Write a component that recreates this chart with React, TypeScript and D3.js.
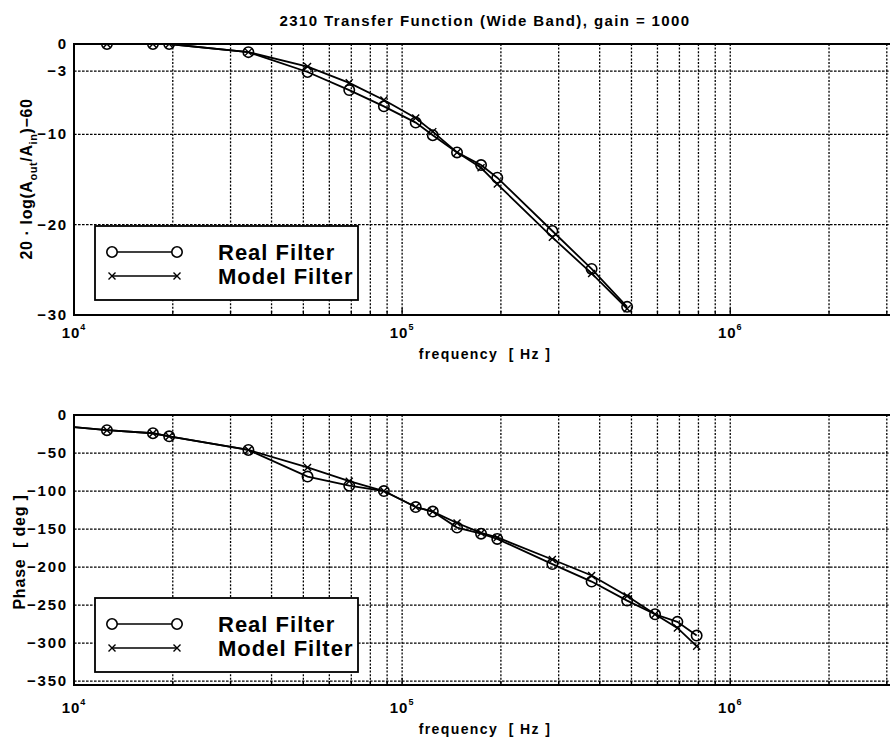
import { useEffect, useRef } from 'react';
import * as d3 from 'd3';

// sampled frequencies (the first one sits just left of the axis and is clipped)
const freqHz = [
  8000, 12600, 17400, 19500, 34000, 51500, 69000, 88000, 110000, 124000, 147000,
  174000, 195000, 287000, 378000, 485000, 590000, 690000, 790000,
];

// magnitude, dB (real data stops at the -30 floor)
const magReal = [0, 0, 0, 0, -0.9, -3.1, -5.1, -6.9, -8.7, -10.1, -12.0, -13.4, -14.8, -20.7, -24.9, -29.1];
const magModel = [0, 0, 0, 0, -0.9, -2.5, -4.3, -6.2, -8.2, -9.7, -12.0, -13.7, -15.5, -21.4, -25.4, -29.3];

// phase, degrees
const phaseReal = [-12, -20, -24, -28, -46, -81, -93, -100, -121, -127, -148, -156, -163, -196, -219, -244, -262, -272, -290];
const phaseModel = [-12, -20, -24, -28, -46, -69, -87, -100, -121, -127, -142, -155, -161, -190, -211, -238, -262, -280, -304];

const magTicks = [0, -3, -10, -20, -30];
const phaseTicks = [0, -50, -100, -150, -200, -250, -300, -350];
const decadeTicks = [1e4, 1e5, 1e6];
const legendLabels = ['Real Filter', 'Model Filter'];
const titleText = '2310 Transfer Function (Wide Band), gain = 1000';
const xLabelText = 'frequency  [ Hz ]';

const FONT = '"Liberation Sans", Arial, Helvetica, sans-serif';
const W = 890;
const H = 742;

type Panel = {
  id: string;
  top: number;
  bottom: number;
  yDomain: [number, number];
  yTicks: number[];
  real: number[];
  model: number[];
  legendTop: number;
  tickLabelY: number;
  xLabelY: number;
};

const panels: Panel[] = [
  {
    id: 'mag',
    top: 44,
    bottom: 315,
    yDomain: [-30, 0],
    yTicks: magTicks,
    real: magReal,
    model: magModel,
    legendTop: 226,
    tickLabelY: 338,
    xLabelY: 359,
  },
  {
    id: 'phase',
    top: 415,
    bottom: 685,
    yDomain: [-355, 0],
    yTicks: phaseTicks,
    real: phaseReal,
    model: phaseModel,
    legendTop: 598,
    tickLabelY: 713,
    xLabelY: 734,
  },
];

function fmt(v: number) {
  return v < 0 ? '\u2212' + Math.abs(v) : String(v);
}

export default function App() {
  const ref = useRef<SVGSVGElement | null>(null);

  useEffect(() => {
    if (!ref.current) return;
    const svg = d3.select(ref.current);
    svg.selectAll('*').remove();

    const left = 74;
    const right = 896;
    const x = d3.scaleLog().domain([1e4, 3.2e6]).range([left, right]);
    const gridX = x.ticks().filter((v) => v > 1e4);

    svg
      .append('text')
      .attr('x', 485)
      .attr('y', 26)
      .attr('text-anchor', 'middle')
      .attr('font-family', FONT)
      .attr('font-weight', 'bold')
      .attr('font-size', 15)
      .attr('letter-spacing', 1.4)
      .text(titleText);

    panels.forEach((p) => {
      const y = d3.scaleLinear().domain(p.yDomain).range([p.bottom, p.top]);
      const g = svg.append('g');

      g.append('clipPath')
        .attr('id', `clip-${p.id}`)
        .append('rect')
        .attr('x', left)
        .attr('y', p.top)
        .attr('width', right - left)
        .attr('height', p.bottom - p.top);

      // grid
      g.append('g')
        .selectAll('line')
        .data(gridX)
        .join('line')
        .attr('x1', (d) => x(d))
        .attr('x2', (d) => x(d))
        .attr('y1', p.top)
        .attr('y2', p.bottom)
        .attr('stroke', '#000')
        .attr('stroke-width', 1.3)
        .attr('stroke-dasharray', '2,1.6');

      g.append('g')
        .selectAll('line')
        .data(p.yTicks.filter((v) => y(v) > p.top + 1 && y(v) < p.bottom - 1))
        .join('line')
        .attr('x1', left)
        .attr('x2', right)
        .attr('y1', (d) => y(d))
        .attr('y2', (d) => y(d))
        .attr('stroke', '#000')
        .attr('stroke-width', 1.3)
        .attr('stroke-dasharray', '2.6,1.4');

      // small inward ticks on the bottom axis
      g.append('g')
        .selectAll('line')
        .data(x.ticks())
        .join('line')
        .attr('x1', (d) => x(d))
        .attr('x2', (d) => x(d))
        .attr('y1', p.bottom)
        .attr('y2', (d) => p.bottom - (decadeTicks.includes(d) ? 7 : 4))
        .attr('stroke', '#000')
        .attr('stroke-width', 1.3);

      // axis frame
      g.append('path')
        .attr('d', `M${right},${p.top}H${left}V${p.bottom}H${right}`)
        .attr('fill', 'none')
        .attr('stroke', '#000')
        .attr('stroke-width', 2);

      // y tick labels
      g.append('g')
        .selectAll('text')
        .data(p.yTicks)
        .join('text')
        .attr('x', left - 6)
        .attr('y', (d) => y(d) + 5)
        .attr('text-anchor', 'end')
        .attr('font-family', FONT)
        .attr('font-weight', 'bold')
        .attr('font-size', 15)
        .attr('letter-spacing', 1.8)
        .text((d) => fmt(d));

      // x tick labels 10^n
      const xl = g
        .append('g')
        .selectAll('text')
        .data(decadeTicks)
        .join('text')
        .attr('x', (d) => x(d))
        .attr('y', p.tickLabelY)
        .attr('text-anchor', 'middle')
        .attr('font-family', FONT)
        .attr('font-weight', 'bold')
        .attr('font-size', 15)
        .attr('letter-spacing', 1);
      xl.append('tspan').text('10');
      xl.append('tspan')
        .attr('dy', -8)
        .attr('font-size', 9)
        .text((d) => String(Math.round(Math.log10(d))));

      g.append('text')
        .attr('x', 485)
        .attr('y', p.xLabelY)
        .attr('text-anchor', 'middle')
        .attr('font-family', FONT)
        .attr('font-weight', 'bold')
        .attr('font-size', 14)
        .attr('letter-spacing', 1.4)
        .style('white-space', 'pre')
        .text(xLabelText);

      // data
      const n = p.real.length;
      const fr = freqHz.slice(0, n);
      const line = d3
        .line<number>()
        .x((_, i) => x(fr[i]))
        .y((d) => y(d));

      const data = g.append('g').attr('clip-path', `url(#clip-${p.id})`);
      [p.model, p.real].forEach((vals) => {
        data
          .append('path')
          .attr('d', line(vals))
          .attr('fill', 'none')
          .attr('stroke', '#000')
          .attr('stroke-width', 1.8);
      });

      data
        .append('g')
        .selectAll('circle')
        .data(p.real)
        .join('circle')
        .attr('cx', (_, i) => x(fr[i]))
        .attr('cy', (d) => y(d))
        .attr('r', 5.2)
        .attr('fill', 'none')
        .attr('stroke', '#000')
        .attr('stroke-width', 1.6);

      const s = 3.5;
      data
        .append('g')
        .selectAll('path')
        .data(p.model)
        .join('path')
        .attr('d', (d, i) => {
          const cx = x(fr[i]);
          const cy = y(d);
          return `M${cx - s},${cy - s}L${cx + s},${cy + s}M${cx - s},${cy + s}L${cx + s},${cy - s}`;
        })
        .attr('stroke', '#000')
        .attr('stroke-width', 1.4);

      // legend
      const lg = g.append('g');
      const lt = p.legendTop;
      lg.append('rect')
        .attr('x', 95)
        .attr('y', lt)
        .attr('width', 263)
        .attr('height', 74)
        .attr('fill', '#fff')
        .attr('stroke', '#000')
        .attr('stroke-width', 1.8);

      legendLabels.forEach((label, i) => {
        const ly = lt + 26 + i * 24;
        lg.append('line')
          .attr('x1', 112)
          .attr('x2', 177)
          .attr('y1', ly)
          .attr('y2', ly)
          .attr('stroke', '#000')
          .attr('stroke-width', 1.6);
        [112, 177].forEach((mx) => {
          if (i === 0) {
            lg.append('circle')
              .attr('cx', mx)
              .attr('cy', ly)
              .attr('r', 5.2)
              .attr('fill', '#fff')
              .attr('stroke', '#000')
              .attr('stroke-width', 1.6);
          } else {
            lg.append('path')
              .attr('d', `M${mx - s},${ly - s}L${mx + s},${ly + s}M${mx - s},${ly + s}L${mx + s},${ly - s}`)
              .attr('stroke', '#000')
              .attr('stroke-width', 1.4);
          }
        });
        lg.append('text')
          .attr('x', 218)
          .attr('y', ly + 8)
          .attr('font-family', FONT)
          .attr('font-weight', 'bold')
          .attr('font-size', 22)
          .attr('letter-spacing', 1)
          .text(label);
      });
    });

    // y axis labels
    const yl1 = svg
      .append('text')
      .attr('transform', 'translate(32,179) rotate(-90)')
      .attr('text-anchor', 'middle')
      .attr('font-family', FONT)
      .attr('font-weight', 'bold')
      .attr('font-size', 16)
      .attr('letter-spacing', 0.6);
    yl1.append('tspan').text('20 \u00b7 log(A');
    yl1.append('tspan').attr('dy', 5).attr('font-size', 11).text('out');
    yl1.append('tspan').attr('dy', -5).text('/A');
    yl1.append('tspan').attr('dy', 5).attr('font-size', 11).text('in');
    yl1.append('tspan').attr('dy', -5).text(')\u221260');

    svg
      .append('text')
      .attr('transform', 'translate(25,552) rotate(-90)')
      .attr('text-anchor', 'middle')
      .attr('font-family', FONT)
      .attr('font-weight', 'bold')
      .attr('font-size', 16)
      .attr('letter-spacing', 0.8)
      .style('white-space', 'pre')
      .text('Phase  [ deg ]');
  }, []);

  return (
    <svg
      ref={ref}
      width={W}
      height={H}
      style={{ position: 'absolute', left: 0, top: 0, background: '#fff' }}
    />
  );
}
